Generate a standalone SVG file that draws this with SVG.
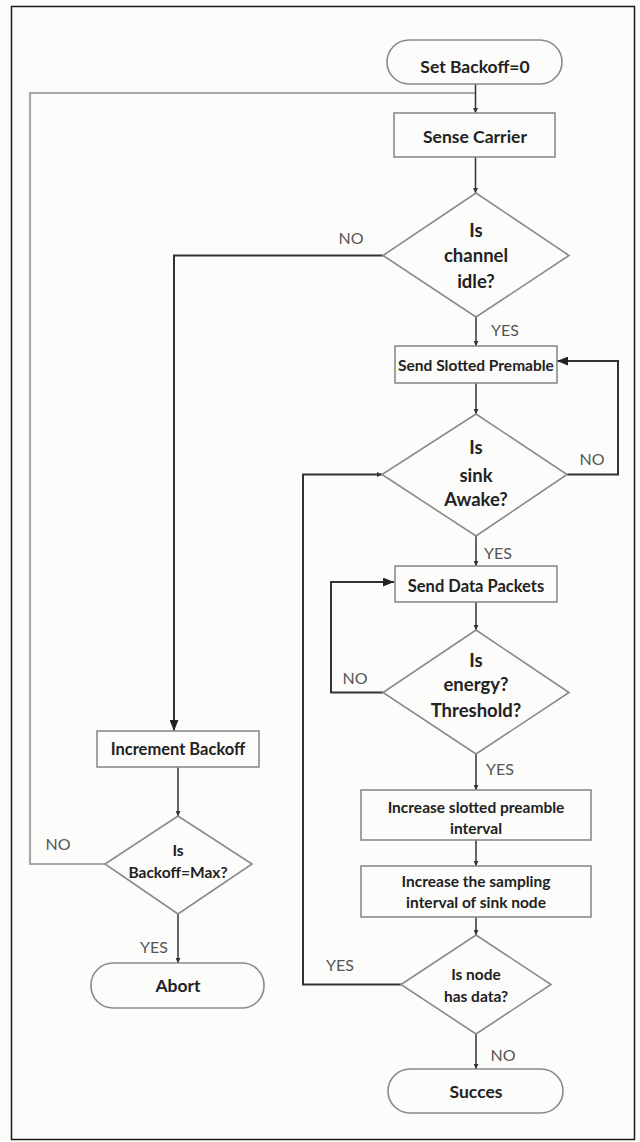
<svg xmlns="http://www.w3.org/2000/svg" width="640" height="1142" viewBox="0 0 640 1142">
<defs>
<style>
.bg{fill:#fcfcfa}
.frame{fill:none;stroke:#1a1a1a;stroke-width:1.5}
.shape{fill:#fcfcfa;stroke:#8a8a8a;stroke-width:1.6}
.t{font-family:Lato,"DejaVu Sans",sans-serif;font-weight:700;font-size:17.5px;fill:#222;text-anchor:middle}
.ts{font-size:15.5px}
.tm{font-size:16.5px}
.td{font-size:18.5px}
.lbl{font-family:Lato,"DejaVu Sans",sans-serif;font-weight:400;font-size:16px;fill:#555;text-anchor:middle}
.c{fill:none;stroke:#333;stroke-width:1.5}
.cb{fill:none;stroke:#333;stroke-width:2}
.cg{fill:none;stroke:#a8a8a8;stroke-width:2.2}
</style>
<marker id="as" viewBox="0 0 8 8" refX="8" refY="4" markerWidth="5" markerHeight="5" markerUnits="userSpaceOnUse" orient="auto"><path d="M0,0 L8,4 L0,8 z" fill="#333"/></marker>
<marker id="al" viewBox="0 0 10 8" refX="10" refY="4" markerWidth="11" markerHeight="9" markerUnits="userSpaceOnUse" orient="auto"><path d="M0,0 L10,4 L0,8 z" fill="#222"/></marker>
</defs>
<rect class="bg" x="0" y="0" width="640" height="1142"/>
<rect class="frame" x="11.5" y="6.5" width="623" height="1133"/>

<g id="connectors">
<path class="cg" d="M105,864 H30 V93 H475.5"/>
<path class="c" d="M475.5,84 V113" marker-end="url(#as)"/>
<path class="c" d="M475.5,157 V193" marker-end="url(#as)"/>
<path class="cb" d="M383,255.5 H174 V731" marker-end="url(#al)"/>
<path class="c" d="M476,317 V346" marker-end="url(#as)"/>
<path class="c" d="M476,383 V414" marker-end="url(#as)"/>
<path class="cb" d="M567,474.5 H618 V361 H557" marker-end="url(#al)"/>
<path class="c" d="M476,536 V566" marker-end="url(#as)"/>
<path class="c" d="M476,602 V630" marker-end="url(#as)"/>
<path class="cb" d="M383,692.5 H331 V582 H394" marker-end="url(#al)"/>
<path class="c" d="M476,754 V790" marker-end="url(#as)"/>
<path class="c" d="M476,840 V866" marker-end="url(#as)"/>
<path class="c" d="M476,917 V935" marker-end="url(#as)"/>
<path class="cb" d="M401,984.5 H303 V474.5 H382" marker-end="url(#as)"/>
<path class="c" d="M476,1034 V1069" marker-end="url(#as)"/>
<path class="c" d="M178,767 V816" marker-end="url(#as)"/>
<path class="c" d="M178,914 V963" marker-end="url(#as)"/>
<text class="lbl" x="351" y="244">NO</text>
<text class="lbl" x="505" y="336">YES</text>
<text class="lbl" x="592" y="465">NO</text>
<text class="lbl" x="498" y="559">YES</text>
<text class="lbl" x="355" y="684">NO</text>
<text class="lbl" x="500" y="775">YES</text>
<text class="lbl" x="58" y="850">NO</text>
<text class="lbl" x="154" y="953">YES</text>
<text class="lbl" x="340" y="971">YES</text>
<text class="lbl" x="503" y="1061">NO</text>
</g>

<g id="start">
<rect class="shape" x="387" y="40" width="175" height="44" rx="22" ry="22"/>
<text class="t" x="475" y="73">Set Backoff=0</text>
</g>
<g id="sense">
<rect class="shape" x="394" y="113" width="161" height="44"/>
<text class="t" x="475" y="143">Sense Carrier</text>
</g>
<g id="idle">
<polygon class="shape" points="476,193 569,255.5 476,317 383,255.5"/>
<text class="t td" x="476" y="237">Is</text>
<text class="t td" x="476" y="262">channel</text>
<text class="t td" x="476" y="288">idle?</text>
</g>
<g id="premable">
<rect class="shape" x="395" y="346" width="162" height="37"/>
<text class="t ts" x="476" y="371">Send Slotted Premable</text>
</g>
<g id="awake">
<polygon class="shape" points="476,414 567,474.5 476,536 382,474.5"/>
<text class="t td" x="476" y="454">Is</text>
<text class="t td" x="476" y="482">sink</text>
<text class="t td" x="476" y="506">Awake?</text>
</g>
<g id="data">
<rect class="shape" x="395" y="566" width="162" height="36"/>
<text class="t tm" x="476" y="592">Send Data Packets</text>
</g>
<g id="energy">
<polygon class="shape" points="476,630 569,692.5 476,754 383,692.5"/>
<text class="t td" x="476" y="667">Is</text>
<text class="t td" x="476" y="691">energy?</text>
<text class="t td" x="476" y="717">Threshold?</text>
</g>
<g id="increment">
<rect class="shape" x="97" y="731" width="162" height="36"/>
<text class="t tm" x="178" y="755">Increment Backoff</text>
</g>
<g id="max">
<polygon class="shape" points="178,816 252,864 178,914 105,864"/>
<text class="t ts" x="178" y="856">Is</text>
<text class="t ts" x="178" y="878">Backoff=Max?</text>
</g>
<g id="abort">
<rect class="shape" x="91" y="963" width="173" height="45" rx="22" ry="22"/>
<text class="t" x="178" y="992">Abort</text>
</g>
<g id="slotted">
<rect class="shape" x="361" y="790" width="230" height="50"/>
<text class="t ts" x="476" y="813">Increase slotted preamble</text>
<text class="t ts" x="476" y="834">interval</text>
</g>
<g id="sampling">
<rect class="shape" x="361" y="866" width="230" height="51"/>
<text class="t ts" x="476" y="887">Increase the sampling</text>
<text class="t ts" x="476" y="908">interval of sink node</text>
</g>
<g id="hasdata">
<polygon class="shape" points="476,935 551,984.5 476,1034 401,984.5"/>
<text class="t ts" x="476" y="980">Is node</text>
<text class="t ts" x="476" y="1002">has data?</text>
</g>
<g id="succes">
<rect class="shape" x="388" y="1069" width="175" height="44" rx="22" ry="22"/>
<text class="t" x="476" y="1098">Succes</text>
</g>
</svg>
